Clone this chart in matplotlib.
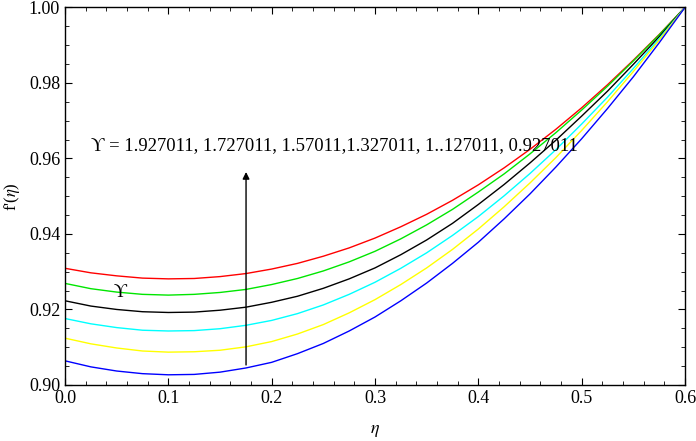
import numpy as np
import matplotlib
matplotlib.use("Agg")
import matplotlib.pyplot as plt
from matplotlib.ticker import MultipleLocator, FormatStrFormatter

plt.rcParams['font.family'] = ['Liberation Serif', 'DejaVu Serif']
plt.rcParams['mathtext.fontset'] = 'stix'

# ==== Data ====
eta = [0.0, 0.025, 0.05, 0.075, 0.1, 0.125, 0.15, 0.175, 0.2, 0.225, 0.25, 0.275,
       0.3, 0.325, 0.35, 0.375, 0.4, 0.425, 0.45, 0.475, 0.5, 0.525, 0.55, 0.575, 0.6]

f_red = [0.9309, 0.9297, 0.9289, 0.9283, 0.9281, 0.9282, 0.9287, 0.9295, 0.9307, 0.9322,
         0.9341, 0.9363, 0.9389, 0.9419, 0.9452, 0.9489, 0.9530, 0.9575, 0.9624, 0.9677,
         0.9734, 0.9795, 0.9860, 0.9928, 1.0]
f_green = [0.9269, 0.9255, 0.9246, 0.9240, 0.9238, 0.9240, 0.9245, 0.9253, 0.9266, 0.9282,
           0.9302, 0.9326, 0.9354, 0.9387, 0.9424, 0.9465, 0.9511, 0.9559, 0.9612, 0.9668,
           0.9728, 0.9791, 0.9858, 0.9927, 1.0]
f_black = [0.9223, 0.9209, 0.9200, 0.9194, 0.9192, 0.9193, 0.9198, 0.9206, 0.9219, 0.9235,
           0.9256, 0.9281, 0.9310, 0.9345, 0.9384, 0.9428, 0.9478, 0.9531, 0.9588, 0.9648,
           0.9712, 0.9778, 0.9849, 0.9922, 1.0]
f_cyan = [0.9176, 0.9162, 0.9152, 0.9145, 0.9143, 0.9144, 0.9149, 0.9158, 0.9171, 0.9189,
          0.9212, 0.9240, 0.9272, 0.9309, 0.9350, 0.9396, 0.9446, 0.9501, 0.9560, 0.9623,
          0.9691, 0.9762, 0.9838, 0.9917, 1.0]
f_yellow = [0.9124, 0.9109, 0.9098, 0.9090, 0.9087, 0.9088, 0.9092, 0.9101, 0.9115, 0.9135,
            0.9160, 0.9191, 0.9226, 0.9266, 0.9310, 0.9359, 0.9413, 0.9472, 0.9535, 0.9602,
            0.9674, 0.9750, 0.9830, 0.9913, 1.0]
f_blue = [0.9064, 0.9048, 0.9037, 0.9030, 0.9027, 0.9028, 0.9034, 0.9045, 0.9060, 0.9083,
          0.9110, 0.9143, 0.9180, 0.9223, 0.9270, 0.9322, 0.9378, 0.9440, 0.9506, 0.9577,
          0.9652, 0.9732, 0.9816, 0.9906, 1.0]

series = [f_red, f_green, f_black, f_cyan, f_yellow, f_blue]
colors = ['#ff0000', '#00e600', '#000000', '#00ffff', '#ffff00', '#0000ff']

note = "\u03d2 = 1.927011, 1.727011, 1.57011,1.327011, 1..127011, 0.927011"

# ==== Plot ====
fig = plt.figure(figsize=(6.96, 4.41), dpi=100)
ax = fig.add_axes([0.0934, 0.127, 0.8908, 0.8564])

for vals, c in zip(series, colors):
    ax.plot(eta, vals, color=c, lw=1.0)

ax.set_xlim(0.0, 0.6)
ax.set_ylim(0.90, 1.00)
ax.xaxis.set_major_locator(MultipleLocator(0.1))
ax.xaxis.set_minor_locator(MultipleLocator(0.02))
ax.yaxis.set_major_locator(MultipleLocator(0.02))
ax.yaxis.set_minor_locator(MultipleLocator(0.005))
ax.xaxis.set_major_formatter(FormatStrFormatter('%.1f'))
ax.yaxis.set_major_formatter(FormatStrFormatter('%.2f'))
ax.tick_params(which='both', direction='in', top=True, right=True, labelsize=13)
ax.tick_params(which='major', length=5)
ax.tick_params(which='minor', length=3)
for sp in ax.spines.values():
    sp.set_linewidth(1.0)

ax.set_xlabel(r"$\eta$", fontsize=13, labelpad=11)
ax.set_ylabel(r"f'($\eta$)", fontsize=12, labelpad=5)

ax.annotate("", xy=(0.1752, 0.9564), xytext=(0.1752, 0.9053),
            arrowprops=dict(arrowstyle='-|>', color='black', lw=1.0,
                            mutation_scale=10, shrinkA=0, shrinkB=0))
ax.text(0.025, 0.9622, note, fontsize=13.4, ha='left', va='baseline')
ax.text(0.053, 0.9246, "\u03d2", fontsize=13, ha='center', va='center')

fig.savefig("out.png", dpi=100)
